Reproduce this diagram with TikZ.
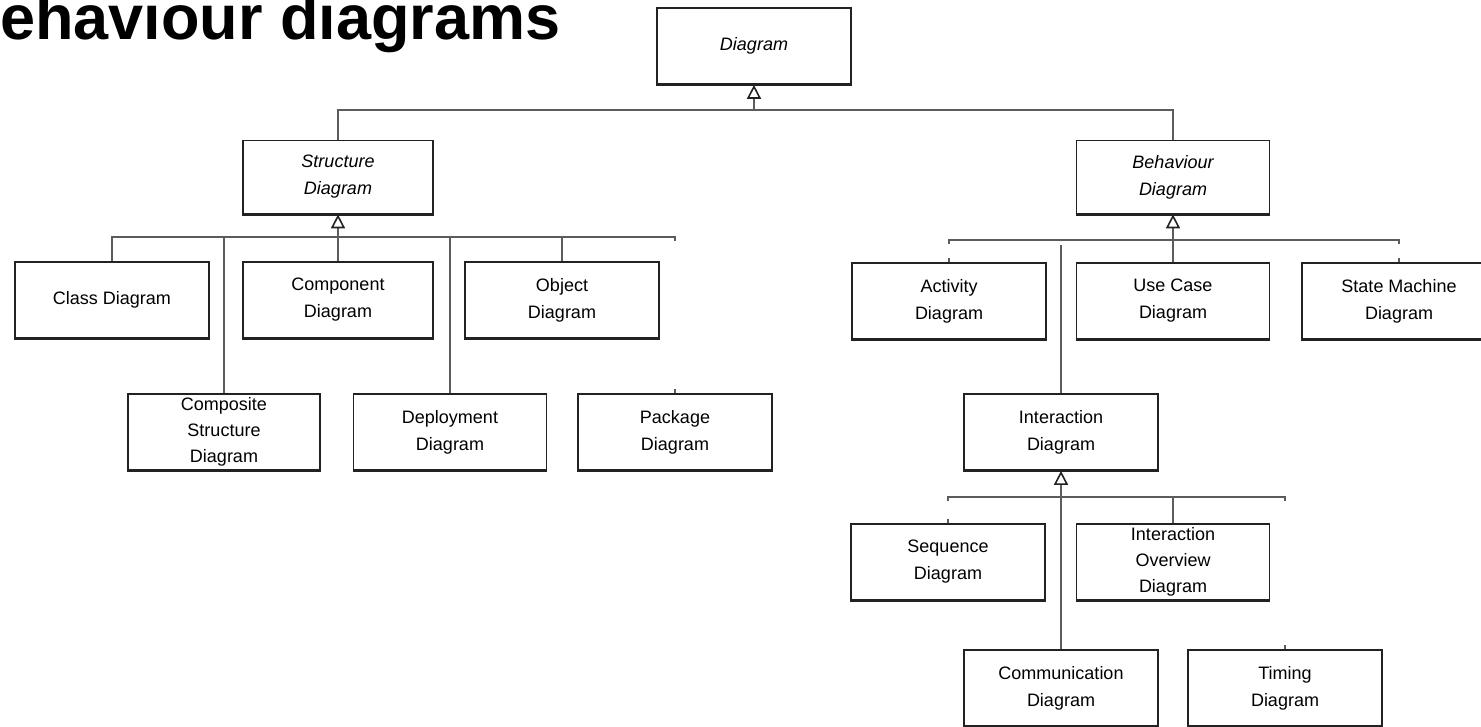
\documentclass[tikz,border=0pt]{standalone}
\usepackage{fontspec}
\setmainfont{Liberation Sans}
\usetikzlibrary{arrows.meta,calc}
\definecolor{edge}{HTML}{222222}
\definecolor{wire}{HTML}{5c5c5c}
\tikzset{
  cls/.style={draw=edge, line width=1.7pt, minimum width=194pt, minimum height=76pt,
    inner sep=0pt, align=center, font=\fontsize{18}{27}\selectfont},
  abstract/.style={cls, font=\fontsize{18}{27}\selectfont\itshape},
  wire/.style={draw=wire, line width=2pt},
  gen/.style={wire, -{Triangle[open, length=14pt, width=14pt, line width=1.6pt, color=edge, fill=white]}},
  base/.style={draw=edge, line width=3.2pt}
}
\begin{document}
\begin{tikzpicture}[x=1pt,y=-1pt]
\useasboundingbox (0,0) rectangle (1481,727);

% heading
\node[anchor=base west, inner sep=0pt, font=\fontsize{63}{63}\selectfont\bfseries] (title) at (-45.5,40) {Behaviour diagrams};

% classes
\node[abstract] (diagram) at (754,46) {Diagram};
\node[abstract, minimum width=190pt, minimum height=73pt] (structure) at (338,177) {Structure\\Diagram};
\node[abstract, minimum width=193pt, minimum height=73pt] (behaviour) at (1173,177) {Behaviour\\Diagram};

\node[cls] (class) at (112,300) {Class Diagram};
\node[cls, minimum width=190pt] (component) at (338,300) {Component\\Diagram};
\node[cls] (object) at (562,300) {Object\\Diagram};
\node[cls, minimum width=192pt, font=\fontsize{18}{26}\selectfont] (composite) at (224,432) {Composite\\Structure\\Diagram};
\node[cls, minimum width=193pt] (deployment) at (450,432) {Deployment\\Diagram};
\node[cls] (package) at (675,432) {Package\\Diagram};

\node[cls] (activity) at (949,301) {Activity\\Diagram};
\node[cls, minimum width=193pt] (usecase) at (1173,301) {Use Case\\Diagram};
\node[cls] (statemachine) at (1399,301) {State Machine\\Diagram};
\node[cls] (interaction) at (1061,432) {Interaction\\Diagram};
\node[cls] (sequence) at (948,562) {Sequence\\Diagram};
\node[cls, minimum width=193pt, font=\fontsize{18}{26}\selectfont] (ioverview) at (1173,562) {Interaction\\Overview\\Diagram};
\node[cls] (communication) at (1061,688) {Communication\\Diagram};
\node[cls] (timing) at (1285,688) {Timing\\Diagram};

% heavier lower edges
\foreach \n in {diagram,structure,behaviour,class,component,object,composite,
  deployment,package,activity,usecase,statemachine,interaction,sequence,
  ioverview,communication,timing}
  \draw[base] (\n.south west) -- (\n.south east);

% Diagram generalisation
\coordinate (topbus) at (754,110);
\draw[wire] (structure.north) -- (structure.north |- topbus) -- (behaviour.north |- topbus) -- (behaviour.north);
\draw[gen] (topbus) -- (diagram.south);

% Structure Diagram generalisation
\coordinate (sbus) at (338,237);
\draw[wire] (class.north) -- (class.north |- sbus) -- (package.north |- sbus) -- ++(0,4);
\foreach \n in {component,object,composite,deployment}
  \draw[wire] (\n.north) -- (\n.north |- sbus);
\draw[wire] (package.north) -- ++(0,-4);
\draw[gen] (sbus) -- (structure.south);

% Behaviour Diagram generalisation
\coordinate (bbus) at (1173,240);
\draw[wire] ($(activity.north |- bbus)+(0,4)$) -- (activity.north |- bbus) -- (statemachine.north |- bbus) -- ++(0,4);
\draw[wire] (activity.north) -- ++(0,-4);
\draw[wire] (statemachine.north) -- ++(0,-4);
\draw[wire] (usecase.north) -- (usecase.north |- bbus);
\draw[wire] (interaction.north) -- ($(interaction.north |- bbus)+(0,5)$);
\draw[gen] (bbus) -- (behaviour.south);

% Interaction Diagram generalisation
\coordinate (ibus) at (1061,497);
\draw[wire] ($(sequence.north |- ibus)+(0,4)$) -- (sequence.north |- ibus) -- (timing.north |- ibus) -- ++(0,4);
\draw[wire] (sequence.north) -- ++(0,-4);
\draw[wire] (timing.north) -- ++(0,-4);
\draw[wire] (communication.north) -- (communication.north |- ibus);
\draw[wire] (ioverview.north) -- (ioverview.north |- ibus);
\draw[gen] (ibus) -- (interaction.south);
\end{tikzpicture}
\end{document}
